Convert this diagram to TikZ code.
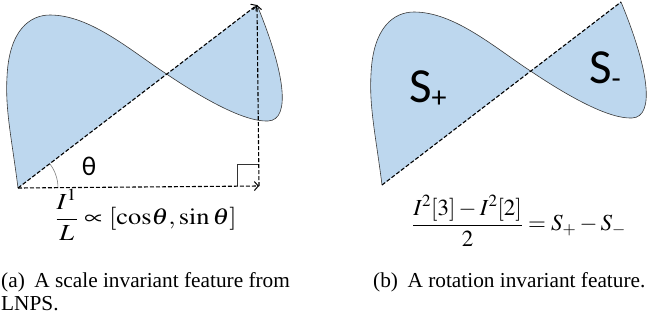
\documentclass[tikz,border=0pt]{standalone}
\usepackage{amsmath}
\usepackage{graphicx}
\usepackage{mathptmx}
\usepackage{fontspec}
\setmainfont{Liberation Serif}
\newfontfamily\capfont{Liberation Serif}
\newfontfamily\calib{Carlito}
\usetikzlibrary{arrows.meta}
\definecolor{lobe}{HTML}{BDD7EE}
\definecolor{edgecol}{HTML}{3A3A3A}
\tikzset{
  chord/.style={line width=1.1pt, dash pattern=on 4pt off 2pt},
  vec/.style={chord, -{Straight Barb[length=4pt,width=9pt,line width=1pt]}},
  outline/.style={draw=edgecol, line width=0.6pt},
  thin mark/.style={line width=0.6pt, draw=black!80},
  biglbl/.style={font=\calib\fontsize{49}{52}\selectfont, inner sep=0pt, anchor=base west},
  eqn/.style={font=\fontsize{23}{27}\selectfont, inner sep=0pt, anchor=west},
  capt/.style={font=\capfont\fontsize{21.3}{23}\selectfont, inner sep=0pt, anchor=base west},
}
\begin{document}
\begin{tikzpicture}[x=1pt,y=-1pt]
\useasboundingbox (0,0) rectangle (647,322);
\clip (0,0) rectangle (647,322);
% ---------- left figure ----------
\begin{scope}
  \coordinate (A) at (18,188);
  \coordinate (T) at (257,5);
  \coordinate (C) at (259,186);
  \fill[lobe] (18,188) .. controls (12,140) and (5,110) .. (7,77)
    .. controls (9,30) and (30,15) .. (50,15)
    .. controls (90,15) and (130,50) .. (165,73)
    .. controls (205,100) and (245,122) .. (268,121)
    .. controls (292,120) and (284,70) .. (257,5) -- cycle;
  \draw[outline] (18,188) .. controls (12,140) and (5,110) .. (7,77)
    .. controls (9,30) and (30,15) .. (50,15)
    .. controls (90,15) and (130,50) .. (165,73)
    .. controls (205,100) and (245,122) .. (268,121)
    .. controls (292,120) and (284,70) .. (257,5);
  \draw[thin mark] (237,186) -- (237,164) -- (259,164);
  \draw[thin mark, draw=gray] ([shift={(0:40)}]A) arc[start angle=0, end angle=-37.3, radius=40];
  \draw[vec] (A) -- (T);
  \draw[vec] (A) -- (C);
  \draw[vec] (C) -- (T);
  \node[font=\calib\fontsize{27}{30}\selectfont, inner sep=0pt] (theta) at (89,166) {θ};
  \node[eqn] (eqa) at (55,215) {\scalebox{1.15}[1]{$\dfrac{I^{1}}{L}\propto[\mathrm{cos}\theta,\sin\theta]$}};
  \node[capt] (capa1) at (1,287) {(a)\hspace{0.45em}A scale invariant feature from};
  \node[capt] (capa2) at (1,310) {LNPS.};
\end{scope}
% ---------- right figure ----------
\begin{scope}[shift={(364,-3)}]
  \coordinate (B) at (18,188);
  \coordinate (U) at (257,5);
  \fill[lobe] (18,188) .. controls (12,140) and (5,110) .. (7,77)
    .. controls (9,30) and (30,15) .. (50,15)
    .. controls (90,15) and (130,50) .. (165,73)
    .. controls (205,100) and (245,122) .. (268,121)
    .. controls (292,120) and (284,70) .. (257,5) -- cycle;
  \draw[outline] (18,188) .. controls (12,140) and (5,110) .. (7,77)
    .. controls (9,30) and (30,15) .. (50,15)
    .. controls (90,15) and (130,50) .. (165,73)
    .. controls (205,100) and (245,122) .. (268,121)
    .. controls (292,120) and (284,70) .. (257,5);
  \draw[chord] (B) -- (U);
\end{scope}
\node[biglbl] (splus) at (409,102) {S\raisebox{-0.12em}{\fontsize{30}{30}\selectfont +}};
\node[biglbl] (sminus) at (589,83) {S\raisebox{-0.12em}{\fontsize{30}{30}\selectfont -}};
\node[eqn] (eqb) at (412,221) {$\dfrac{I^{2}[3]-I^{2}[2]}{2}=S_{+}-S_{-}$};
\node[capt] (capb) at (373,287) {(b)\hspace{0.45em}A rotation invariant feature.};
\end{tikzpicture}
\end{document}
